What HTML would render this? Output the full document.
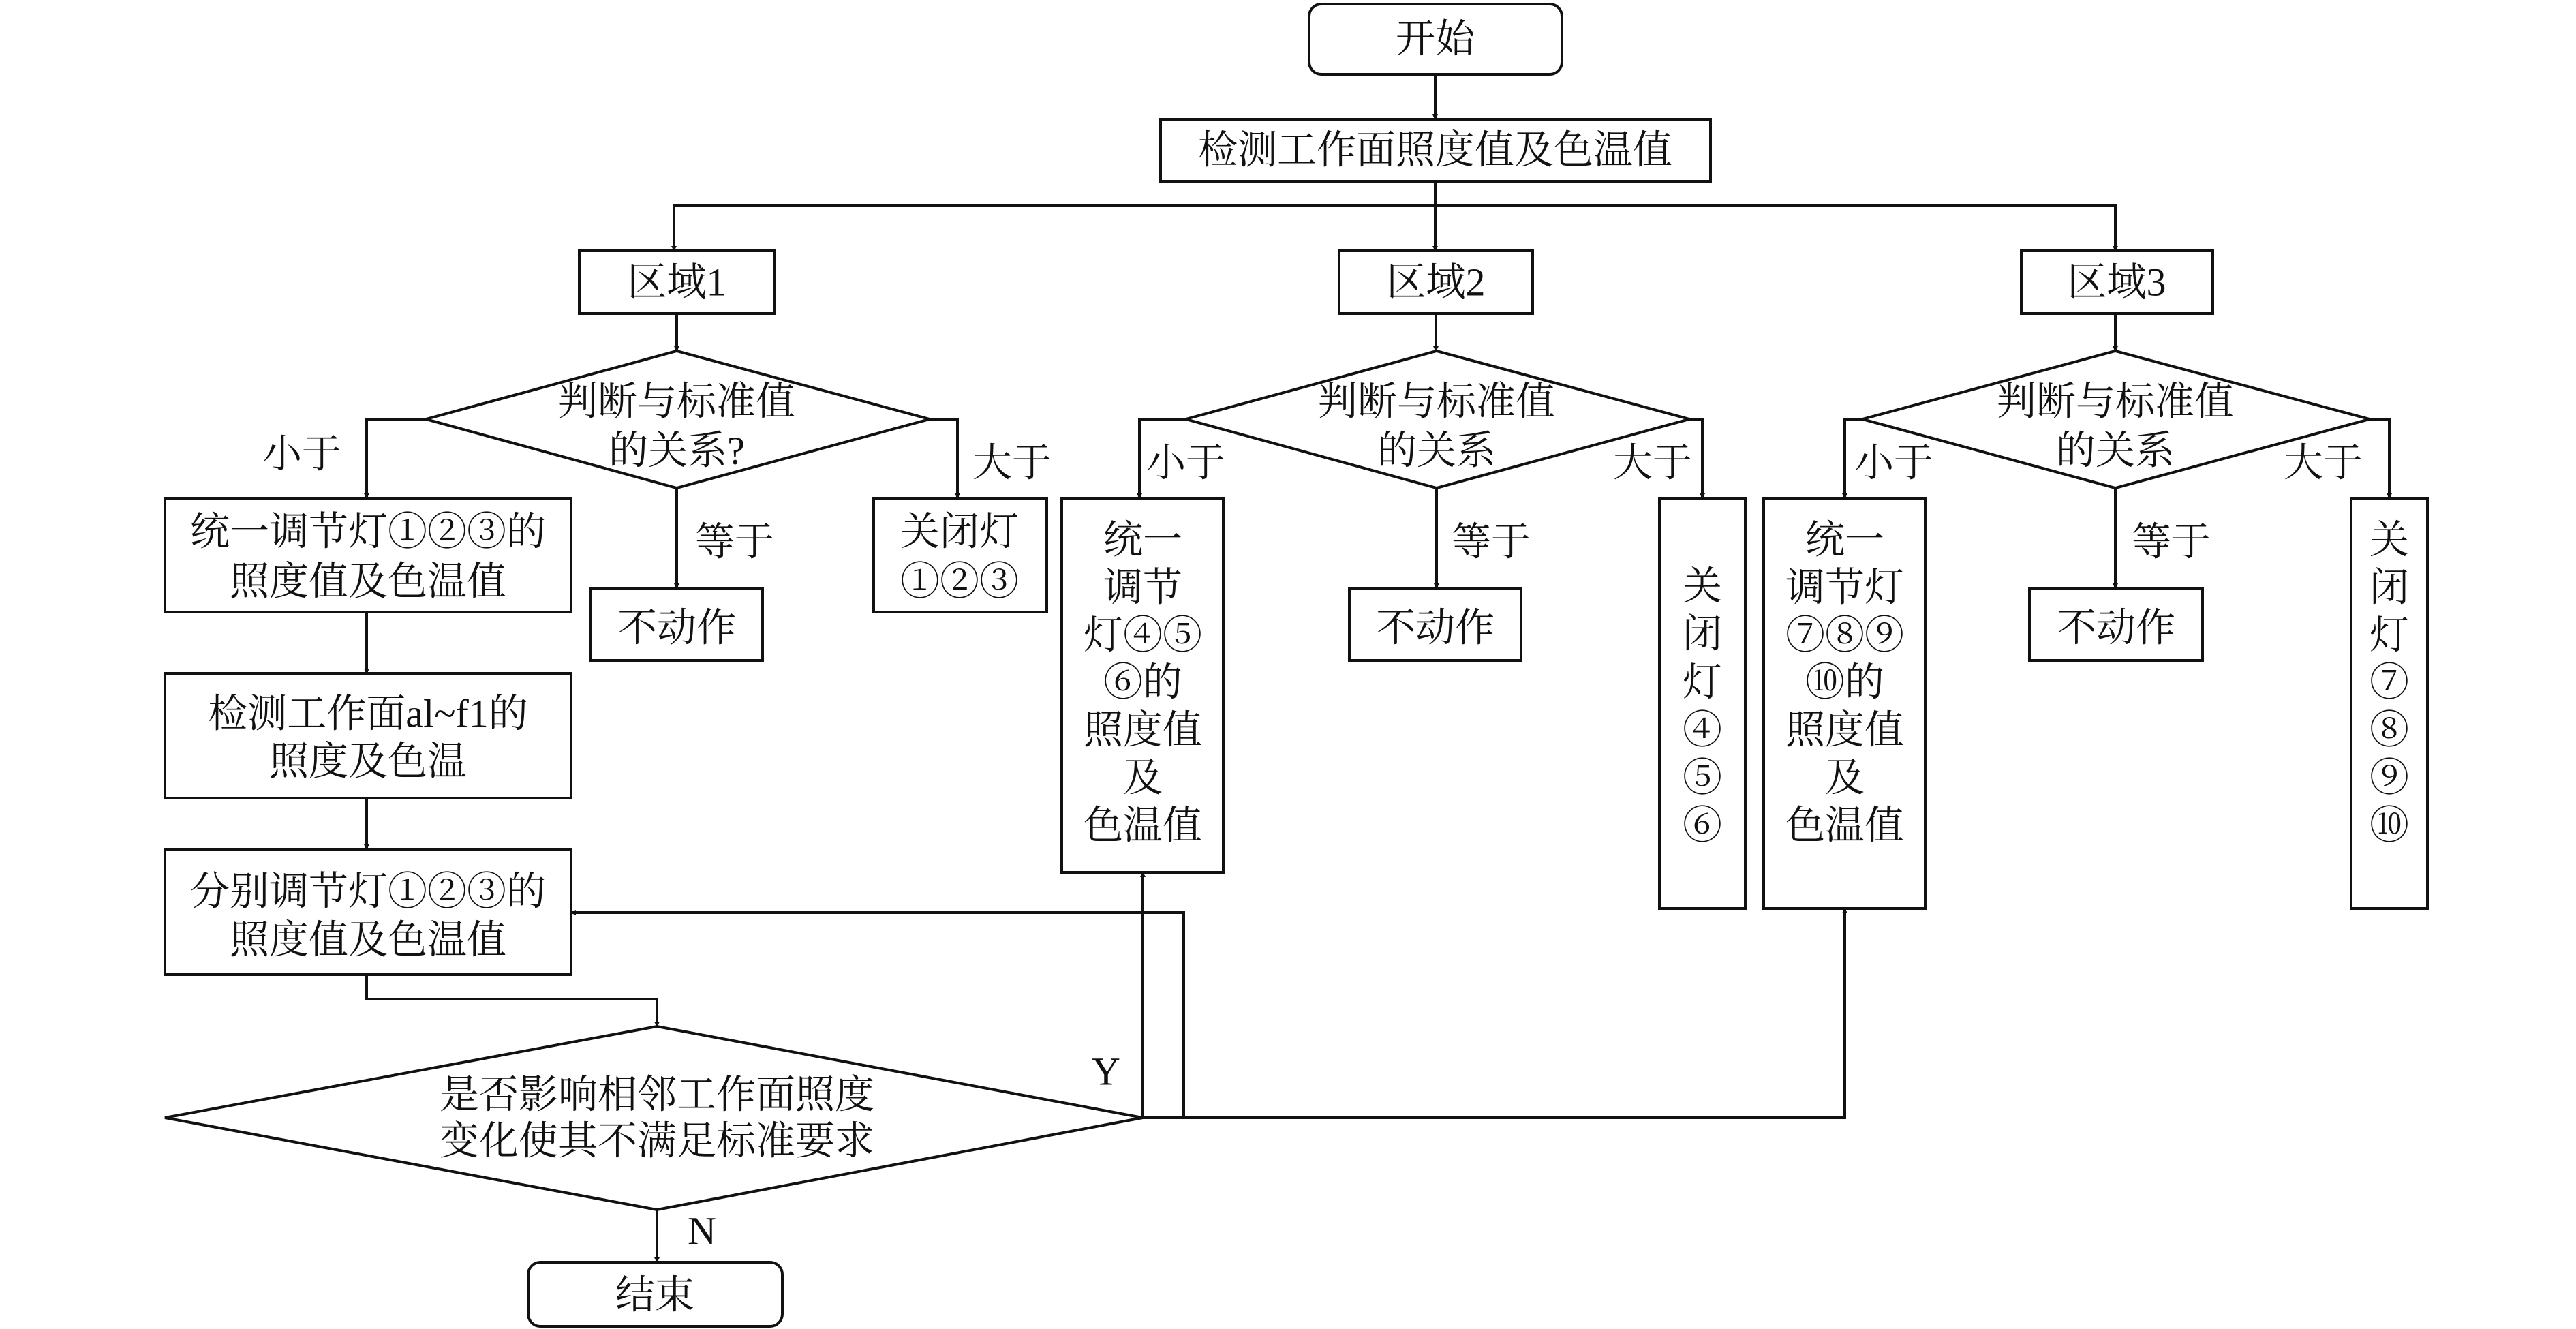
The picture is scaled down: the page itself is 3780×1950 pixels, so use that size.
<!DOCTYPE html>
<html><head><meta charset="utf-8"><style>
html,body{margin:0;padding:0;background:#fff;}
svg{display:block;}
text{font-family:"Liberation Serif","Noto Serif CJK SC",serif;font-size:58px;fill:#111;text-anchor:middle;dominant-baseline:central;}
</style></head><body>
<svg width="3780" height="1950" viewBox="0 0 3780 1950" xmlns="http://www.w3.org/2000/svg">
<defs><marker id="a" markerWidth="8" markerHeight="8" refX="7" refY="4" orient="auto" markerUnits="userSpaceOnUse" viewBox="0 0 8 8"><path d="M0,0 L8,4 L0,8 z" fill="#111"/></marker></defs>
<g fill="none" stroke="#111" stroke-width="4">
<rect x="1921" y="6" width="371" height="103" rx="18"/>
<rect x="1703" y="175" width="807" height="91"/>
<rect x="850" y="368" width="286" height="92"/>
<rect x="1965" y="368" width="284" height="92"/>
<rect x="2966" y="368" width="281" height="92"/>
<polygon points="625,615 993,515 1364,615 993,716"/>
<polygon points="1740,615 2108,515 2479,615 2108,716"/>
<polygon points="2733,615 3104,515 3477,615 3104,716"/>
<rect x="242" y="731" width="596" height="167"/>
<rect x="1282" y="731" width="254" height="167"/>
<rect x="867" y="863" width="252" height="106"/>
<rect x="1980" y="863" width="252" height="106"/>
<rect x="2978" y="863" width="254" height="106"/>
<rect x="1558" y="731" width="237" height="549"/>
<rect x="2435" y="731" width="126" height="602"/>
<rect x="2588" y="731" width="237" height="602"/>
<rect x="3450" y="731" width="112" height="602"/>
<rect x="242" y="988" width="596" height="183"/>
<rect x="242" y="1246" width="596" height="184"/>
<polygon points="242,1640 964,1506 1677,1640 964,1775"/>
<rect x="775" y="1852" width="373" height="94" rx="18"/>
</g>
<g fill="none" stroke="#111" stroke-width="4" marker-end="url(#a)">
<path d="M2106,109 V175"/>
<path d="M2106,266 V368"/>
<path d="M2106,302 H989 V368"/>
<path d="M2106,302 H3104 V368"/>
<path d="M993,460 V515"/>
<path d="M2107,460 V515"/>
<path d="M3104,460 V515"/>
<path d="M625,615 H538 V731"/>
<path d="M1364,615 H1405 V731"/>
<path d="M993,716 V863"/>
<path d="M1740,615 H1672 V731"/>
<path d="M2479,615 H2498 V731"/>
<path d="M2108,716 V863"/>
<path d="M2733,615 H2707 V731"/>
<path d="M3477,615 H3506 V731"/>
<path d="M3104,716 V863"/>
<path d="M538,898 V988"/>
<path d="M538,1171 V1246"/>
<path d="M538,1430 V1466 H964 V1506"/>
<path d="M964,1775 V1852"/>
<path d="M1677,1640 V1280"/>
<path d="M1677,1640 H1737 V1339 H838"/>
<path d="M1677,1640 H2707 V1333"/>
</g>
<text x="2106" y="57">开始</text>
<text x="2106" y="220">检测工作面照度值及色温值</text>
<text x="993" y="414">区域1</text>
<text x="2107" y="414">区域2</text>
<text x="3106" y="414">区域3</text>
<text x="993" y="589">判断与标准值</text><text x="993" y="661">的关系?</text>
<text x="2108" y="589">判断与标准值</text><text x="2108" y="661">的关系</text>
<text x="3104" y="589">判断与标准值</text><text x="3104" y="661">的关系</text>
<text x="443" y="666">小于</text><text x="1485" y="679">大于</text><text x="1078" y="795">等于</text>
<text x="1740" y="679">小于</text><text x="2425" y="679">大于</text><text x="2188" y="795">等于</text>
<text x="2779" y="679">小于</text><text x="3409" y="679">大于</text><text x="3186" y="795">等于</text>
<text x="540" y="780">统一调节灯①②③的</text><text x="540" y="853">照度值及色温值</text>
<text x="1408" y="780">关闭灯</text><text x="1408" y="853">①②③</text>
<text x="993" y="921">不动作</text><text x="2106" y="921">不动作</text><text x="3105" y="921">不动作</text>
<text x="540" y="1047">检测工作面al~f1的</text><text x="540" y="1117">照度及色温</text>
<text x="540" y="1308">分别调节灯①②③的</text><text x="540" y="1379">照度值及色温值</text>
<text x="964" y="1606">是否影响相邻工作面照度</text><text x="964" y="1674">变化使其不满足标准要求</text>
<text x="961" y="1900">结束</text>
<text x="1623" y="1572">Y</text><text x="1030" y="1806">N</text>
<text x="1677" y="792">统一</text><text x="1677" y="862">调节</text><text x="1677" y="932">灯④⑤</text><text x="1677" y="1001">⑥的</text><text x="1677" y="1071">照度值</text><text x="1677" y="1141">及</text><text x="1677" y="1211">色温值</text>
<text x="2498" y="860">关</text><text x="2498" y="930">闭</text><text x="2498" y="1001">灯</text><text x="2498" y="1071">④</text><text x="2498" y="1141">⑤</text><text x="2498" y="1211">⑥</text>
<text x="2707" y="792">统一</text><text x="2707" y="862">调节灯</text><text x="2707" y="932">⑦⑧⑨</text><text x="2707" y="1001">⑩的</text><text x="2707" y="1071">照度值</text><text x="2707" y="1141">及</text><text x="2707" y="1211">色温值</text>
<text x="3506" y="792">关</text><text x="3506" y="862">闭</text><text x="3506" y="932">灯</text><text x="3506" y="1001">⑦</text><text x="3506" y="1071">⑧</text><text x="3506" y="1141">⑨</text><text x="3506" y="1211">⑩</text>
</svg>
</body></html>
